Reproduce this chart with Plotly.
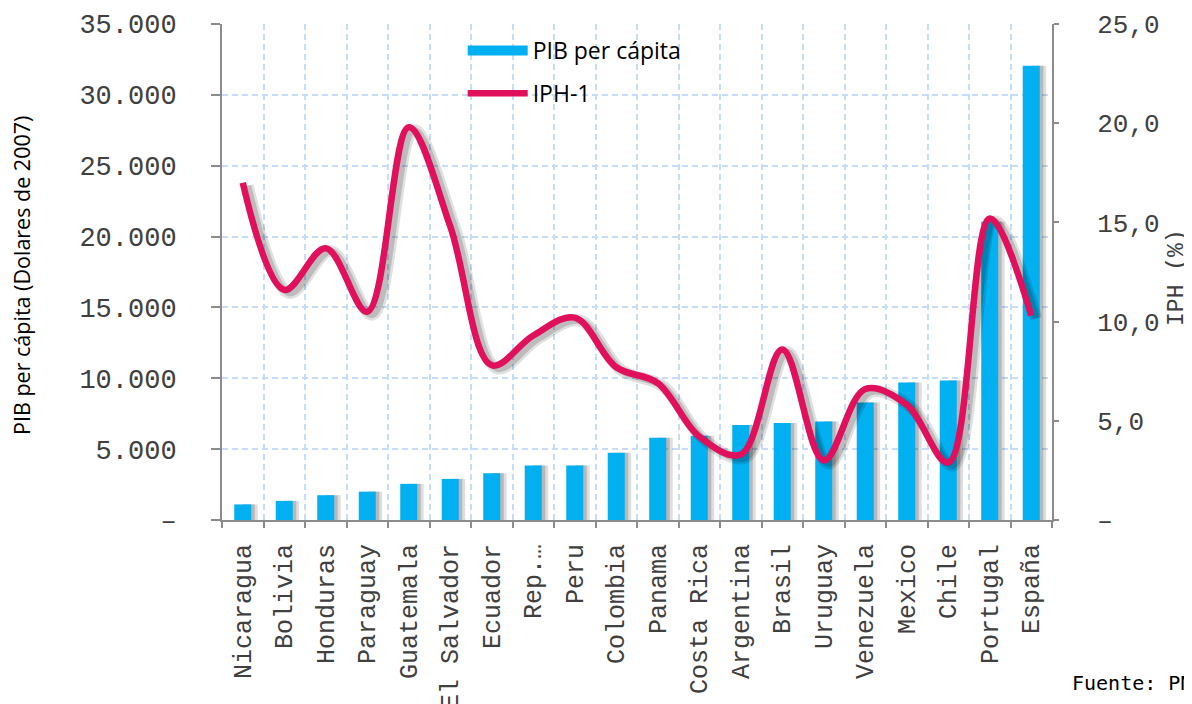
import plotly.graph_objects as go
import numpy as np

countries = ["Nicaragua", "Bolivia", "Honduras", "Paraguay", "Guatemala", "El Salvador",
             "Ecuador", "Rep.…", "Peru", "Colombia", "Panama", "Costa Rica", "Argentina",
             "Brasil", "Uruguay", "Venezuela", "Mexico", "Chile", "Portugal", "España"]
pib = [1100, 1350, 1750, 2000, 2550, 2900, 3300, 3850, 3850, 4750, 5800, 5950, 6700,
       6850, 6950, 8300, 9700, 9850, 21050, 32050]
iph = [17.0, 11.6, 13.7, 10.5, 19.8, 14.8, 7.8, 9.3, 10.2, 7.7, 6.9, 4.2, 3.3,
       8.6, 3.0, 6.6, 5.8, 2.9, 15.2, 10.3]

left_ticks = [0, 5000, 10000, 15000, 20000, 25000, 30000, 35000]
left_text = ["–", "5.000", "10.000", "15.000", "20.000", "25.000", "30.000", "35.000"]
right_ticks = [0, 5, 10, 15, 20, 25]
right_text = ["–", "5,0", "10,0", "15,0", "20,0", "25,0"]

BLUE = "#00B0F0"
RED = "#E0105C"
GRID = "#C6DCF8"
AXIS = "#8C8C8C"
TXT = "#404040"
MONO = "Liberation Mono"
SANS = "Open Sans"

fig = go.Figure()
# bar shadows (two layers for a soft edge)
fig.add_trace(go.Bar(x=countries, y=pib, width=0.36, offset=0.0,
                     marker=dict(color="rgba(0,0,0,0.13)", line_width=0),
                     showlegend=False, hoverinfo="skip"))
fig.add_trace(go.Bar(x=countries, y=pib, width=0.29, offset=0.0,
                     marker=dict(color="rgba(0,0,0,0.17)", line_width=0),
                     showlegend=False, hoverinfo="skip"))
# bars
fig.add_trace(go.Bar(x=countries, y=pib, width=0.41, offset=-0.205,
                     marker=dict(color=BLUE, line_width=0),
                     showlegend=False, name="PIB per cápita"))
# legend entry for bars (wide swatch)
fig.add_trace(go.Scatter(x=[None], y=[None], mode="lines", name="PIB per cápita",
                         line=dict(color=BLUE, width=14), legendgroup="a"))
idx = np.arange(len(countries))
# line shadow
fig.add_trace(go.Scatter(x=idx + 0.12, y=np.array(iph) - 0.15, xaxis="x2", yaxis="y2",
                         mode="lines", line=dict(color="rgba(0,0,0,0.12)", width=12,
                                                 shape="spline", smoothing=1),
                         showlegend=False, hoverinfo="skip"))
fig.add_trace(go.Scatter(x=idx + 0.12, y=np.array(iph) - 0.15, xaxis="x2", yaxis="y2",
                         mode="lines", line=dict(color="rgba(0,0,0,0.16)", width=7,
                                                 shape="spline", smoothing=1),
                         showlegend=False, hoverinfo="skip"))
# line
fig.add_trace(go.Scatter(x=idx, y=iph, xaxis="x2", yaxis="y2", mode="lines", name="IPH-1",
                         line=dict(color=RED, width=6.5, shape="spline", smoothing=1),
                         legendgroup="b"))

fig.update_layout(
    width=1192, height=704,
    margin=dict(l=214, r=148, t=16, b=192),
    paper_bgcolor="white", plot_bgcolor="white",
    barmode="overlay",
    showlegend=True,
    legend=dict(x=0.29, y=0.99, xanchor="left", yanchor="top",
                font=dict(family=SANS, size=23, color="black"),
                bgcolor="rgba(0,0,0,0)", itemwidth=60, tracegroupgap=10,
                traceorder="grouped"),
    xaxis=dict(type="category", range=[-0.5, 19.5], tickson="boundaries",
               ticks="outside", ticklen=6, tickcolor=AXIS, tickwidth=2,
               showline=True, linecolor=AXIS, linewidth=2,
               showgrid=True, gridcolor=GRID, gridwidth=1.5, griddash="6px,4px",
               tickangle=-90, tickfont=dict(family=MONO, size=25, color=TXT),
               ticklabelstandoff=12, automargin=False, zeroline=False),
    xaxis2=dict(overlaying="x", range=[-0.5, 19.5], visible=False, showgrid=False),
    yaxis=dict(range=[0, 35000], tickvals=left_ticks, ticktext=left_text,
               ticks="outside", ticklen=9, tickcolor=AXIS, tickwidth=2,
               showline=True, linecolor=AXIS, linewidth=2,
               showgrid=True, gridcolor=GRID, gridwidth=1.5, griddash="6px,4px",
               tickfont=dict(family=MONO, size=27, color=TXT),
               ticklabelstandoff=29, automargin=False, zeroline=False),
    yaxis2=dict(overlaying="y", side="right", range=[0, 25], tickvals=right_ticks,
                ticktext=right_text, ticks="outside", ticklen=5, tickcolor=AXIS,
                tickwidth=2, showline=True, linecolor=AXIS, linewidth=2,
                showgrid=False, zeroline=False,
                tickfont=dict(family=MONO, size=26, color=TXT),
                ticklabelstandoff=33, automargin=False),
    annotations=[
        dict(text="PIB per cápita (Dolares de 2007)", textangle=-90,
             xref="paper", yref="paper", x=-0.241, y=0.494,
             xanchor="center", yanchor="middle", showarrow=False,
             font=dict(family=SANS, size=21.5, color="black")),
        dict(text="IPH (%)", textangle=-90,
             xref="paper", yref="paper", x=1.1506, y=0.49,
             xanchor="center", yanchor="middle", showarrow=False,
             font=dict(family=MONO, size=23, color=TXT)),
        dict(text="Fuente: PNUD", xref="paper", yref="paper", x=1.0217, y=-0.3286,
             xanchor="left", yanchor="middle", showarrow=False,
             font=dict(family="DejaVu Sans Mono", size=20, color="black")),
    ],
)

fig.write_html("out.html")
